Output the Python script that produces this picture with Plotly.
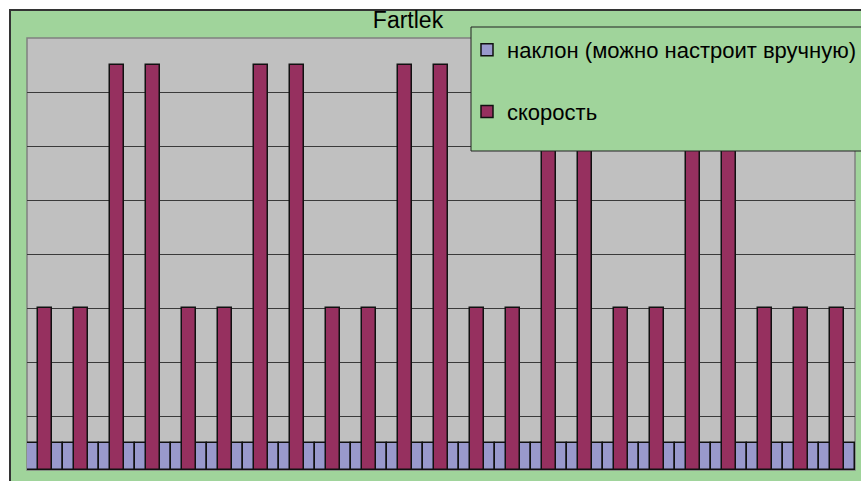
import plotly.graph_objects as go

# Interval workout: treadmill incline and speed per segment
segments = [str(i) for i in range(1, 24)]
incline = [1, 1, 1, 1, 1, 1, 1, 1, 1, 1, 1, 1, 1, 1, 1, 1, 1, 1, 1, 1, 1, 1, 1]
speed = [6, 6, 15, 15, 6, 6, 15, 15, 6, 6, 15, 15, 6, 6, 15, 15, 6, 6, 15, 15, 6, 6, 6]

series_names = ["наклон (можно настроит вручную)", "скорость"]
title_text = "Fartlek"

W, H = 861, 481
ML, MR, MT, MB = 27, 6, 38, 11
PW, PH = W - ML - MR, H - MT - MB

FONT = "Liberation Sans, Arial, sans-serif"
GREEN = "#A0D49B"
GREY = "#C0C0C0"
PURPLE = "#9999CC"
MAROON = "#96305F"


def px_x(x):
    return (x - ML) / PW


def px_y(y):
    return (H - MB - y) / PH


fig = go.Figure()
fig.add_trace(go.Bar(
    x=segments, y=incline, name=series_names[0], width=1.0,
    marker=dict(color=PURPLE, line=dict(color="#111111", width=1.5)),
    legendgroup="a",
))
fig.add_trace(go.Bar(
    x=segments, y=speed, name=series_names[1], width=0.39,
    marker=dict(color=MAROON, line=dict(color="#111111", width=1.5)),
    legendgroup="b",
))

shapes = [
    # chart area
    dict(type="rect", xref="paper", yref="paper", layer="below",
         x0=px_x(10), x1=px_x(900), y0=px_y(10), y1=px_y(520),
         fillcolor=GREEN, line=dict(color="#333333", width=2)),
    # plot area
    dict(type="rect", xref="paper", yref="paper", layer="below",
         x0=0, x1=1, y0=0, y1=1,
         fillcolor=GREY, line=dict(color="#808080", width=1.5)),
    # legend box
    dict(type="rect", xref="paper", yref="paper", layer="above",
         x0=px_x(471), x1=px_x(900), y0=px_y(27), y1=px_y(151),
         fillcolor=GREEN, line=dict(color="#222222", width=1)),
]

fig.update_layout(
    width=W, height=H,
    margin=dict(l=ML, r=MR, t=MT, b=MB, pad=0, autoexpand=False),
    paper_bgcolor="white",
    plot_bgcolor="rgba(0,0,0,0)",
    barmode="overlay",
    bargap=0,
    showlegend=True,
    font=dict(family=FONT, color="black"),
    title=dict(text=title_text, x=408 / W, xanchor="center",
               y=1 - 20 / H, yanchor="middle", xref="container", yref="container",
               font=dict(family=FONT, size=23, color="black")),
    legend=dict(x=px_x(467), y=px_y(29), xanchor="left", yanchor="top",
                bgcolor="rgba(0,0,0,0)", borderwidth=0,
                font=dict(family=FONT, size=22, color="black"),
                tracegroupgap=30, traceorder="grouped"),
    shapes=shapes,
    xaxis=dict(range=[-0.5, 22.5], showticklabels=False, ticks="",
               showgrid=False, zeroline=False, showline=False),
    yaxis=dict(range=[0, 16], dtick=2, showticklabels=False, ticks="",
               showgrid=True, gridcolor="#3a3a3a", gridwidth=1.2,
               zeroline=False, showline=False),
)

fig.write_html("out.html")
